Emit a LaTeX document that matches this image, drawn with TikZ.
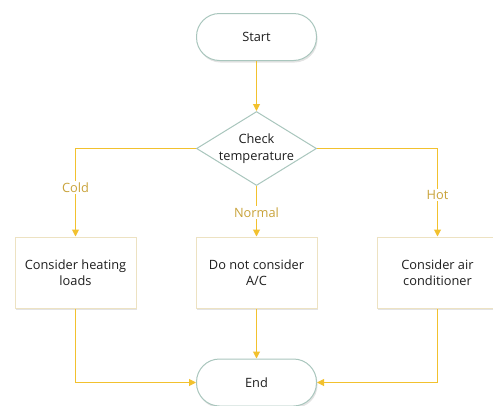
\documentclass[tikz,border=0pt]{standalone}
\usepackage{fontspec}
\setmainfont{Open Sans}
\usetikzlibrary{shapes.geometric,shadows,arrows.meta}
\definecolor{flowline}{HTML}{F2C12E}
\definecolor{termedge}{HTML}{A9C6BD}
\definecolor{boxedge}{HTML}{EDE2C2}
\definecolor{lbltext}{HTML}{C9A33A}
\definecolor{bodytext}{HTML}{1E1E1E}
\tikzset{
  softshadow/.style={drop shadow={shadow xshift=1pt, shadow yshift=-2pt, fill=black!22, opacity=0.5}},
  basefont/.style={font=\fontsize{12.8pt}{16.5pt}\selectfont},
  terminal/.style={draw=termedge, line width=1pt, fill=white, rounded corners=23pt,
    minimum width=120pt, minimum height=47pt, inner sep=0pt, softshadow,
    basefont, text=bodytext},
  decision/.style={draw=termedge, line width=1pt, fill=white, diamond,
    minimum width=120pt, minimum height=74pt, inner sep=0pt},
  process/.style={draw=boxedge, line width=1pt, fill=white, rectangle,
    minimum width=121pt, minimum height=71pt, inner sep=0pt, softshadow,
    align=center, basefont, text=bodytext},
  flow/.style={draw=flowline, line width=1pt, -{Triangle[length=7pt,width=7pt]}},
  branch/.style={fill=white, text=lbltext, basefont, inner sep=1.5pt},
}
\begin{document}
\begin{tikzpicture}[x=1pt,y=-1pt]
  \useasboundingbox (0,0) rectangle (493,405);
  \node[terminal] (start) at (256.5,37) {Start};
  \node[decision, label={[basefont, text=bodytext, align=center]center:Check\\temperature}] (check) at (256.5,148.5) {};
  \node[process] (heat) at (75.5,272.5) {Consider heating\\loads};
  \node[process] (noac) at (256.5,272.5) {Do not consider\\A/C};
  \node[process] (air) at (437.5,272.5) {Consider air\\conditioner};
  \node[terminal] (end) at (256.5,382.5) {End};

  \draw[flow] (start) -- (check);
  \draw[flow] (check.west) -| node[branch, pos=0.72] (cold) {Cold} (heat.north);
  \draw[flow] (check.south) -- node[branch, pos=0.53] (normal) {Normal} (noac.north);
  \draw[flow] (check.east) -| node[branch, pos=0.765] (hot) {Hot} (air.north);
  \draw[flow] (heat.south) |- (end.west);
  \draw[flow] (noac.south) -- (end.north);
  \draw[flow] (air.south) |- (end.east);
\end{tikzpicture}
\end{document}
